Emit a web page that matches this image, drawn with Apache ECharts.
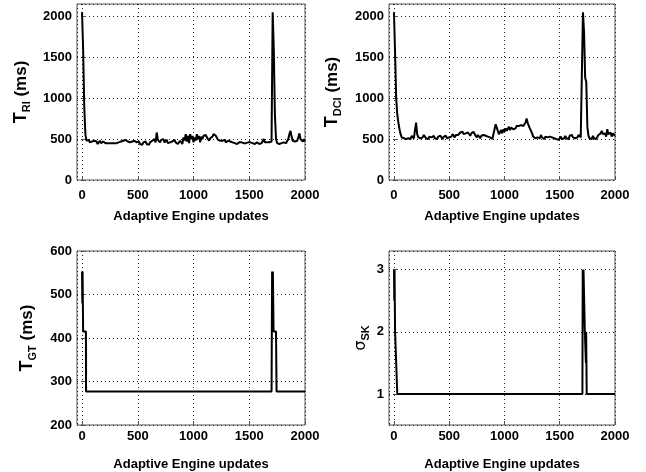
<!DOCTYPE html>
<html><head><meta charset="utf-8">
<script src="https://cdn.jsdelivr.net/npm/echarts@6/dist/echarts.min.js"></script>
<style>html,body{margin:0;padding:0;background:#fff}#c{width:646px;height:472px}</style>
</head><body><div id="c"></div>
<script>
const updates = [0,10,20,30,40,50,60,70,80,90,100,110,120,130,140,150,160,170,180,190,200,210,220,230,240,250,260,270,280,290,300,310,320,330,340,350,360,370,380,390,400,410,420,430,440,450,460,470,480,490,500,510,520,530,540,550,560,570,580,590,600,610,620,630,640,650,660,670,680,690,700,710,720,730,740,750,760,770,780,790,800,810,820,830,840,850,860,870,880,890,900,910,920,930,940,950,960,970,980,990,1000,1010,1020,1030,1040,1050,1060,1070,1080,1090,1100,1110,1120,1130,1140,1150,1160,1170,1180,1190,1200,1210,1220,1230,1240,1250,1260,1270,1280,1290,1300,1310,1320,1330,1340,1350,1360,1370,1380,1390,1400,1410,1420,1430,1440,1450,1460,1470,1480,1490,1500,1510,1520,1530,1540,1550,1560,1570,1580,1590,1600,1610,1620,1630,1640,1650,1660,1670,1680,1690,1700,1710,1720,1730,1740,1750,1760,1770,1780,1790,1800,1810,1820,1830,1840,1850,1860,1870,1880,1890,1900,1910,1920,1930,1940,1950,1960,1970,1980,1990,2000];

const tRI = [2050,1600,900,560,480,470,490,460,480,470,450,480,460,470,440,460,480,450,430,470,450,450,450,450,450,450,450,450,450,450,450,450,450,460,450,470,460,480,470,490,480,470,480,460,480,470,450,480,470,460,450,470,440,450,430,460,440,470,440,450,430,460,450,480,470,500,460,580,490,500,460,490,470,500,460,480,490,450,470,460,440,470,450,490,460,470,440,450,480,460,440,520,480,560,470,540,450,560,500,540,460,520,480,560,500,540,460,530,500,540,560,550,520,530,480,510,490,530,560,550,540,520,490,510,480,500,480,470,490,460,470,480,460,470,450,460,470,450,460,440,450,460,450,460,440,450,460,450,440,460,450,460,440,450,460,440,450,460,450,440,460,450,470,500,460,450,460,450,460,450,470,2050,1600,800,500,450,470,440,430,450,440,460,470,450,470,500,560,600,530,480,460,470,450,480,520,570,500,520,470,500,470];

const tDCI = [2050,1550,1000,800,700,620,560,520,500,510,530,500,520,510,530,500,540,520,510,530,700,560,520,540,510,530,520,550,530,510,520,500,530,510,520,500,540,510,520,500,530,510,540,520,500,530,520,540,510,530,520,540,530,560,540,520,550,530,550,540,580,560,590,560,540,570,550,580,560,540,570,550,590,560,540,520,550,530,510,540,520,550,570,540,560,530,550,520,540,500,560,620,680,640,600,560,580,610,570,620,590,630,600,620,650,610,640,660,620,640,630,660,640,660,650,670,650,660,680,700,750,700,660,640,600,570,530,550,510,530,520,540,510,550,520,540,500,530,510,520,500,530,510,520,500,510,530,500,520,490,510,530,500,520,510,540,510,530,500,540,520,550,520,540,510,530,520,550,530,520,540,2050,1800,1250,1200,650,540,510,530,500,540,510,530,500,520,550,540,570,600,560,540,570,530,620,560,540,580,530,570,560,540];

const gtUpdates = [0,3,5,8,10,35,36,1700,1705,1708,1712,1718,1740,1745,2000];
const tGT = [553,480,553,553,415,415,277,277,553,500,553,415,415,277,277];

const skUpdates = [0,3,5,8,10,28,30,1705,1708,1712,1715,1725,1727,1735,1737,1739,1742,1744,2000];
const sigmaSK = [3,2.5,3,3,2,2,1,1,3,2.5,3,3,2,2,1.5,2,2,1,1];

function pairs(xs, ys){ return xs.map((x,i)=>[x, ys[i]]); }

const FONT = 'Liberation Sans, Arial, Helvetica, sans-serif';
const gridDefs = [
  {left:77, top:4, width:228, height:176},
  {left:389, top:4, width:226, height:176},
  {left:77, top:251, width:228, height:174},
  {left:389, top:251, width:226, height:174}
];
const splitStyle = {show:true, lineStyle:{color:'#222', width:1, type:[1,3]}};
const labelBase = {color:'#000', fontSize:13, fontWeight:'bold', fontFamily:FONT, formatter:function(v){return String(v);}};

function xAxis(i, margin, gap){
  return {
    type:'value', gridIndex:i, min:-45, max:2000, minInterval:500, maxInterval:500,
    axisLine:{show:false}, axisTick:{show:true, inside:true, length:4, lineStyle:{color:'#555'}},
    axisLabel:Object.assign({margin:margin, showMinLabel:false}, labelBase),
    splitLine:splitStyle,
    name:'Adaptive Engine updates', nameLocation:'middle', nameGap:gap,
    nameTextStyle:{color:'#000', fontSize:13, fontWeight:'bold', fontFamily:FONT}
  };
}
const nameRich = {
  t:{fontSize:18, fontWeight:'bold', fontFamily:FONT, color:'#000'},
  s:{fontSize:11, fontWeight:'bold', fontFamily:FONT, color:'#000', verticalAlign:'top', padding:[10,0,0,0]},
  m:{fontSize:17, fontWeight:'bold', fontFamily:FONT, color:'#000'},
  g:{fontSize:16, fontFamily:'DejaVu Sans, sans-serif', color:'#000'}
};
function yAxis(i, opts){
  return Object.assign({
    type:'value', gridIndex:i,
    axisLine:{show:false}, axisTick:{show:true, inside:true, length:4, lineStyle:{color:'#555'}},
    axisLabel:Object.assign({margin:5, showMinLabel:true, showMaxLabel:false}, labelBase),
    splitLine:splitStyle, nameLocation:'middle',
    nameTextStyle:{rich:nameRich}
  }, opts);
}

const option = {
  animation:false,
  backgroundColor:'#fff',
  grid: gridDefs.map(g=>Object.assign({show:true, borderColor:'#555', borderWidth:1, backgroundColor:'transparent'}, g)),
  xAxis:[xAxis(0,9,30), xAxis(1,9,30), xAxis(2,5,33), xAxis(3,5,33)],
  yAxis:[
    yAxis(0,{min:0, max:2150, minInterval:500, maxInterval:500, name:'{t|T}{s|RI}{m| (ms)}', nameGap:45}),
    yAxis(1,{min:0, max:2150, minInterval:500, maxInterval:500, name:'{t|T}{s|DCI}{m| (ms)}', nameGap:46}),
    yAxis(2,{min:200, max:600, interval:100, name:'{t|T}{s|GT}{m| (ms)}', nameGap:39, axisLabel:Object.assign({margin:5, showMinLabel:true, showMaxLabel:true}, labelBase)}),
    yAxis(3,{min:0.5, max:3.3, minInterval:1, maxInterval:1, name:'{g|σ}{s|SK}', nameGap:18, axisLabel:Object.assign({margin:5, showMinLabel:false, showMaxLabel:false}, labelBase)})
  ],
  series:[
    {type:'line', xAxisIndex:0, yAxisIndex:0, data:pairs(updates,tRI), showSymbol:false, lineStyle:{color:'#000', width:2}},
    {type:'line', xAxisIndex:1, yAxisIndex:1, data:pairs(updates,tDCI), showSymbol:false, lineStyle:{color:'#000', width:2}},
    {type:'line', xAxisIndex:2, yAxisIndex:2, data:pairs(gtUpdates,tGT), showSymbol:false, lineStyle:{color:'#000', width:2}},
    {type:'line', xAxisIndex:3, yAxisIndex:3, data:pairs(skUpdates,sigmaSK), showSymbol:false, lineStyle:{color:'#000', width:2}}
  ]
};
const chart = echarts.init(document.getElementById('c'), null, {renderer:'canvas'});
chart.setOption(option);
</script></body></html>
